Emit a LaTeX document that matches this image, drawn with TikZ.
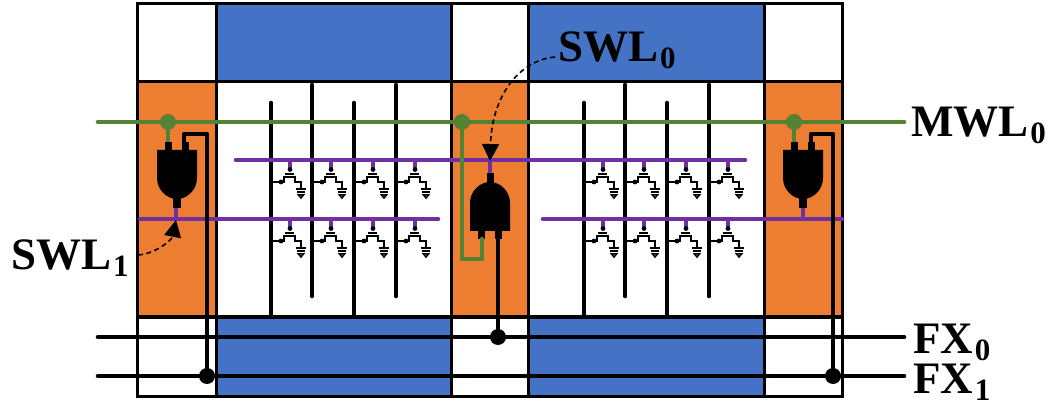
\documentclass[tikz,border=0pt]{standalone}
\usepackage{fontspec}
\setmainfont[Kerning=Off]{Liberation Serif}
\usetikzlibrary{arrows.meta}
\definecolor{cblue}{HTML}{4472C4}
\definecolor{corange}{HTML}{ED7D31}
\definecolor{cgreen}{HTML}{548235}
\definecolor{cpurple}{HTML}{7030A0}
\newcommand{\lbl}[2]{\fontsize{45}{45}\selectfont\bfseries #1\hspace{2pt}\raisebox{-7pt}{\fontsize{31}{31}\selectfont #2}}
\tikzset{
  x=1pt,y=-1pt,
  cellb/.style={draw=black,line width=3pt,fill=cblue},
  cello/.style={draw=black,line width=3pt,fill=corange},
  cellw/.style={draw=black,line width=3pt,fill=white},
  blk/.style={draw=black,line width=4.6pt,line cap=round},
  bit/.style={draw=black,line width=4.6pt,line cap=round},
  grn/.style={draw=cgreen,line width=4.6pt,line cap=round,line join=round},
  pur/.style={draw=cpurple,line width=4.6pt,line cap=round},
  stubg/.style={draw=cgreen,line width=4.6pt},
  stubp/.style={draw=cpurple,line width=4.6pt},
  wire/.style={draw=black,line width=4.6pt,line join=round},
  thin/.style={draw=black,line width=1.5pt},
  lab/.style={anchor=base west,inner sep=0pt,outer sep=0pt},
  dashedarrow/.style={draw=black,line width=1.6pt,dash pattern=on 5pt off 3.5pt,-{Triangle[length=17pt,width=17pt]}},
}
% transistor at bit line x=#1, word line y=#2
\newcommand{\xtor}[2]{%
  \begin{scope}[shift={(#1,#2)}]
    \draw[stubp] (19,0) -- (19,8);
    \fill (19,9.5) circle (2.4);
    \fill (10,22) circle (2.4);
    \draw[thin] (0,22) -- (13,22) -- (13,17) -- (24,17) -- (24,22) -- (30,22) -- (30,29);
    \draw[thin] (14,14) -- (23,14);
    \draw[thin] (25,29) -- (35,29) (26,32) -- (34,32);
    \draw[thin] (27.5,35) -- (32.5,35) -- (30,38) -- cycle;
  \end{scope}}
% gate pointing down: centre x, top y
\newcommand{\gatedown}[2]{%
  \begin{scope}[shift={(#1,#2)}]
    \fill (-20,0) -- (20,0) -- (20,28) .. controls (20,40) and (10,49) .. (0,49) .. controls (-10,49) and (-20,40) .. (-20,28) -- cycle;
    \fill (-4,48) rectangle (4,58);
    \fill (-12,-8) rectangle (-5,1);
    \fill (5,-8) rectangle (12,1);
  \end{scope}}
\begin{document}
\begin{tikzpicture}
\useasboundingbox (0,0) rectangle (1052,403);
% top row
\draw[cellw] (137,4) rectangle (216,82);
\draw[cellb] (216,4) rectangle (451,82);
\draw[cellw] (451,4) rectangle (528,82);
\draw[cellb] (528,4) rectangle (764,82);
\draw[cellw] (764,4) rectangle (842,82);
% middle row
\draw[cello] (137,82) rectangle (216,317);
\draw[cellw] (216,82) rectangle (451,317);
\draw[cello] (451,82) rectangle (528,317);
\draw[cellw] (528,82) rectangle (764,317);
\draw[cello] (764,82) rectangle (842,317);
% bottom row
\draw[cellw] (137,317) rectangle (216,396);
\draw[cellb] (216,317) rectangle (451,396);
\draw[cellw] (451,317) rectangle (528,396);
\draw[cellb] (528,317) rectangle (764,396);
\draw[cellw] (764,317) rectangle (842,396);
% bit lines
\foreach \o in {0,313}{
  \draw[bit] (271+\o,103) -- (271+\o,315);
  \draw[bit] (312+\o,85) -- (312+\o,296);
  \draw[bit] (354+\o,103) -- (354+\o,315);
  \draw[bit] (396+\o,85) -- (396+\o,296);
}
% transistors
\foreach \o in {0,313}{
  \foreach \c in {271,312,354,396}{
    \xtor{\c+\o}{160}
    \xtor{\c+\o}{219}
  }
}
% named points
\coordinate (gl) at (168,122);
\coordinate (gm) at (462,122);
\coordinate (gr) at (794,122);
\coordinate (fl) at (207,376);
\coordinate (fm) at (498,337);
\coordinate (fr) at (833,376);
\coordinate (mwlL) at (98,122);
\coordinate (mwlR) at (904,122);
\coordinate (fx0L) at (98,337);
\coordinate (fx0R) at (904,337);
\coordinate (fx1L) at (98,376);
\coordinate (fx1R) at (904,376);
% word lines
\draw[pur] (236,160) -- (745,160);
\draw[pur] (140,219) -- (438,219);
\draw[pur] (543,219) -- (842,219);
% gates and stubs
\draw[stubp] (176,205) -- (176,219);
\draw[stubp] (803,205) -- (803,219);
\draw[stubp] (490,160) -- (490,175);
\draw[stubg] (gl) -- (168,143);
\draw[stubg] (gr) -- (794,143);
\gatedown{177}{150}
\gatedown{803}{150}
\begin{scope}[shift={(490,231)},yscale=-1]
  \fill (-20,0) -- (20,0) -- (20,28) .. controls (20,40) and (10,49) .. (0,49) .. controls (-10,49) and (-20,40) .. (-20,28) -- cycle;
  \fill (-3.5,48) rectangle (3.5,58);
  \fill (-12,-8) rectangle (-5,1);
  \fill (5,-8) rectangle (12,1);
\end{scope}
% main word line and its taps
\draw[grn] (mwlL) -- (mwlR);
\draw[grn] (gm) -- (462,259) -- (482,259) -- (482,239);
\fill[cgreen] (gl) circle (8);
\fill[cgreen] (gm) circle (8);
\fill[cgreen] (gr) circle (8);
% FX lines
\draw[blk] (fx0L) -- (fx0R);
\draw[blk] (fx1L) -- (fx1R);
\draw[wire] (184,143) -- (184,134) -- (207,134) -- (fl);
\draw[wire] (fm) -- (498,238);
\draw[wire] (811,143) -- (811,134) -- (833,134) -- (fr);
\fill (fl) circle (8);
\fill (fm) circle (8);
\fill (fr) circle (8);
% labels
\node[lab] (mwl) at (911,137) {\lbl{MWL}{0}};
\node[lab] (swl0) at (558,62) {\lbl{SWL}{0}};
\node[lab] (swl1) at (11,270) {\lbl{SWL}{1}};
\node[lab] (fx0) at (913,353) {\lbl{FX}{0}};
\node[lab] (fx1) at (913,393) {\lbl{FX}{1}};
% leaders
\coordinate (t0) at (555,57);
\coordinate (h0) at (490,161);
\coordinate (t1) at (138,255);
\coordinate (h1) at (176,220);
\draw[dashedarrow] (t0) .. controls (520,60) and (492,95) .. (h0);
\draw[dashedarrow] (t1) .. controls (155,254) and (172,240) .. (h1);
\end{tikzpicture}
\end{document}
